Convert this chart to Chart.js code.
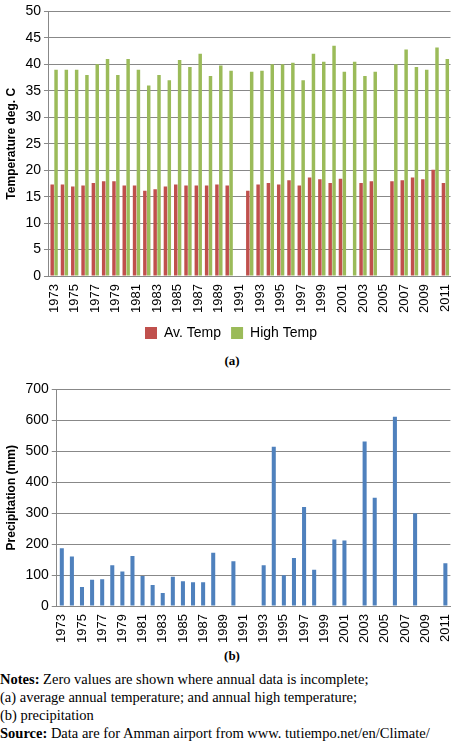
<!DOCTYPE html>
<html>
<head>
<meta charset="utf-8">
<script src="https://cdn.jsdelivr.net/npm/chart.js@4.4.0/dist/chart.umd.min.js"></script>
<style>
body { margin:0; background:#fff; width:464px; height:743px; position:relative; overflow:hidden; }
.box { position:absolute; left:0; width:464px; }
.cap { position:absolute; left:0; width:464px; text-align:center; font:bold 13px "Liberation Serif", serif; }
.notes { position:absolute; left:0; top:670px; font:14.5px "Liberation Serif", serif; line-height:18px; white-space:nowrap; }
</style>
</head>
<body>
<div class="box" style="top:0;height:350px"><canvas id="tempChart"></canvas></div>
<div class="cap" style="top:353px">(a)</div>
<div class="box" style="top:378px;height:268px"><canvas id="rainChart"></canvas></div>
<div class="cap" style="top:648px">(b)</div>
<div class="notes">
<b>Notes:</b> Zero values are shown where annual data is incomplete;<br>
(a) average annual temperature; and annual high temperature;<br>
(b) precipitation<br>
<b>Source:</b> Data are for Amman airport from www. tutiempo.net/en/Climate/
</div>
<script>
// years 1973..2011
var years = [];
for (var y = 1973; y <= 2011; y++) years.push(String(y));

var avTemp = [17.3,17.3,16.9,17.1,17.6,17.9,17.9,17.1,17.1,16.1,16.4,16.9,17.3,17.1,17.1,17.1,17.3,17.1,0,
  16.1,17.3,17.6,17.3,18.1,17.1,18.6,18.3,17.6,18.4,0,17.6,17.9,0,17.9,18.1,18.6,18.3,20.1,17.6];
var highTemp = [39,39,39,38,40,41,38,41,39,36,38,37,40.8,39.5,42,37.8,39.8,38.8,0,
  38.6,38.8,40,40,40.3,37,42,40.5,43.5,38.6,40.5,37.8,38.6,0,40,42.8,39.5,39,43.2,41];
var precip = [187,160,62,85,87,132,112,162,97,68,42,95,80,77,77,172,0,145,0,0,
  132,515,100,155,320,117,0,215,212,0,532,350,0,612,0,300,0,0,138];

Chart.defaults.font.family = "'Liberation Sans', Arial, sans-serif";
Chart.defaults.color = "#000";
Chart.defaults.animation = false;

function xAxis() {
  return {
    grid: { display:false, drawTicks:true, tickLength:5, tickColor:"#888" },
    border: { color:"#888" },
    ticks: {
      autoSkip:false, maxRotation:90, minRotation:90, font:{ size:13 },
      callback: function(v, i) { return i % 2 === 0 ? this.getLabelForValue(v) : ""; }
    }
  };
}
function yAxis(max, step, title) {
  return {
    min:0, max:max,
    ticks: { stepSize:step, font:{ size:14 } },
    grid: { color:"#888", tickLength:5 },
    border: { color:"#888" },
    title: { display:true, text:title, font:{ size:12, weight:"bold" } }
  };
}

var tempChart = new Chart(document.getElementById("tempChart"), {
  type:"bar",
  data:{
    labels:years,
    datasets:[
      { label:"Av. Temp", data:avTemp, backgroundColor:"#c0504d" },
      { label:"High Temp", data:highTemp, backgroundColor:"#9bbb59" }
    ]
  },
  options:{
    responsive:true, maintainAspectRatio:false,
    layout:{ padding:{ top:2, right:2 } },
    datasets:{ bar:{ categoryPercentage:0.75, barPercentage:0.9 } },
    plugins:{
      legend:{ position:"bottom", labels:{ boxWidth:12, boxHeight:12, font:{ size:14 } } },
      tooltip:{ enabled:false }
    },
    scales:{ x:xAxis(), y:yAxis(50, 5, "Temperature deg. C") }
  }
});

var rainChart = new Chart(document.getElementById("rainChart"), {
  type:"bar",
  data:{
    labels:years,
    datasets:[{ label:"Precipitation", data:precip, backgroundColor:"#4f81bd" }]
  },
  options:{
    responsive:true, maintainAspectRatio:false,
    layout:{ padding:{ top:4, right:2 } },
    datasets:{ bar:{ categoryPercentage:0.8, barPercentage:0.5 } },
    plugins:{ legend:{ display:false }, tooltip:{ enabled:false } },
    scales:{ x:xAxis(), y:yAxis(700, 100, "Precipitation (mm)") }
  }
});
</script>
</body>
</html>
